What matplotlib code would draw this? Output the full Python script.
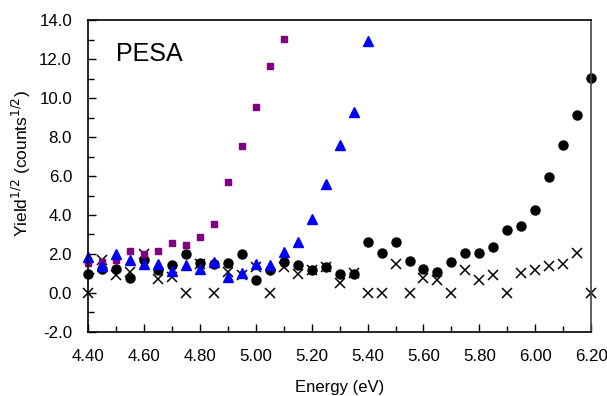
import matplotlib.pyplot as plt
import numpy as np
from matplotlib.ticker import MultipleLocator

plt.rcParams['font.family'] = ['Liberation Sans', 'DejaVu Sans']

energia = np.round(np.arange(4.40, 6.2001, 0.05), 2)

cerchi = [0.97, 1.25, 1.25, 0.75, 1.7, 1.15, 1.45, 2.0, 1.55, 1.5, 1.55, 2.0, 0.65,
          1.17, 1.6, 1.45, 1.2, 1.35, 0.95, 0.95, 2.6, 2.05, 2.6, 1.65, 1.25, 1.05,
          1.6, 2.05, 2.05, 2.35, 3.25, 3.45, 4.25, 5.95, 7.6, 9.15, 11.05]
croci = [0.0, 1.7, 0.9, 1.05, 2.0, 0.7, 0.8, 0.0, 1.5, 0.0, 1.07, 0.9, 1.35,
         0.0, 1.35, 0.95, 1.2, 1.35, 0.5, 1.0, 0.0, 0.0, 1.5, 0.0, 0.75, 0.65,
         0.0, 1.2, 0.65, 0.9, 0.0, 1.0, 1.15, 1.4, 1.5, 2.05, 0.0]

e_quadrati = energia[:15]
quadrati = [1.55, 1.6, 1.7, 2.15, 2.0, 2.15, 2.55, 2.45, 2.85, 3.55, 5.7, 7.55,
            9.55, 11.65, 13.05]

e_triangoli = energia[:21]
triangoli = [1.85, 1.4, 2.0, 1.7, 1.5, 1.5, 1.1, 1.45, 1.25, 1.6, 0.8, 1.0,
             1.5, 1.45, 2.1, 2.6, 3.8, 5.6, 7.6, 9.3, 12.95]

fig = plt.figure(figsize=(6.07, 3.96), dpi=100)
ax = fig.add_axes([0.145, 0.162, 0.829, 0.787])

ax.plot(energia, croci, 'x', color='black', ms=6.5, mew=1.1, clip_on=False)
ax.plot(energia, cerchi, 'o', color='black', ms=6.5, clip_on=False)
ax.plot(e_quadrati, quadrati, 's', color='#800080', ms=4.5, clip_on=False)
ax.plot(e_triangoli, triangoli, '^', color='#0000ff', ms=7, clip_on=False)

ax.set_xlim(4.40, 6.20)
ax.set_ylim(-2.0, 14.0)
ax.xaxis.set_major_locator(MultipleLocator(0.2))
ax.xaxis.set_minor_locator(MultipleLocator(0.1))
ax.yaxis.set_major_locator(MultipleLocator(2.0))
ax.yaxis.set_minor_locator(MultipleLocator(1.0))
ax.xaxis.set_major_formatter(lambda v, p: f"{v:.2f}")
ax.yaxis.set_major_formatter(lambda v, p: f"{v:.1f}")
ax.tick_params(which='both', direction='in', labelsize=12.2, width=1)
ax.tick_params(which='major', length=6)
ax.tick_params(which='minor', length=4)
ax.tick_params(axis='x', pad=12)
ax.tick_params(axis='y', pad=11.5)
for s in ax.spines.values():
    s.set_linewidth(1.2)
ax.spines['right'].set_color('#444444')

ax.text(4.50, 11.9, "PESA", fontsize=18)
ax.set_xlabel("Energy (eV)", fontsize=12, labelpad=12)
ax.set_ylabel("Yield$^{1/2}$ (counts$^{1/2}$)", fontsize=12.5)
ax.yaxis.set_label_coords(-0.11, 0.54)

fig.savefig("out.png", dpi=100)
